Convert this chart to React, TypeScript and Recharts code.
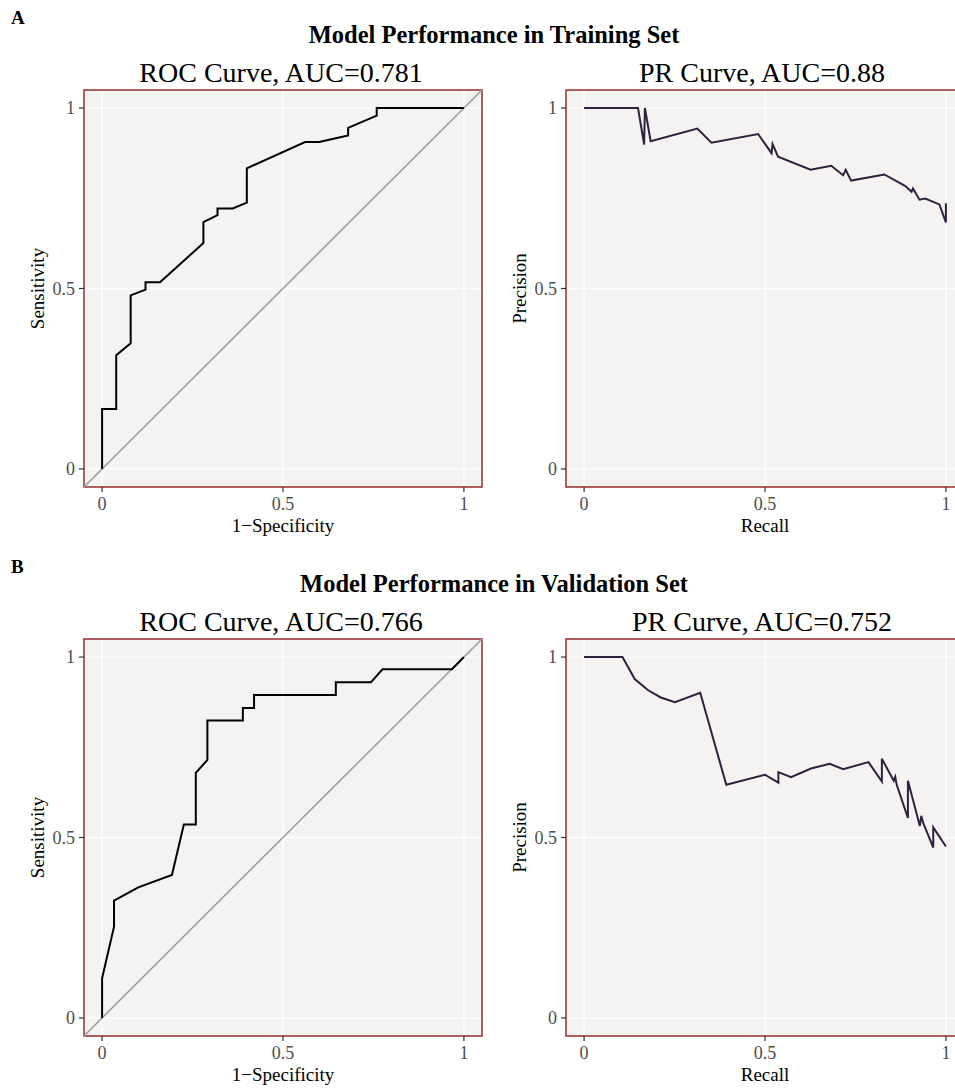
import React from 'react';
import {
  LineChart,
  Line,
  XAxis,
  YAxis,
  CartesianGrid,
  ReferenceLine,
  ReferenceArea,
  Label
} from 'recharts';

// Training set, ROC
const trainRocFpr = [0, 0, 0.039, 0.039, 0.079, 0.079, 0.12, 0.12, 0.16, 0.28, 0.28, 0.319, 0.319, 0.361, 0.4, 0.4, 0.561, 0.6, 0.68, 0.68, 0.759, 0.759, 1];
const trainRocTpr = [0, 0.166, 0.166, 0.315, 0.348, 0.481, 0.497, 0.517, 0.517, 0.626, 0.684, 0.703, 0.722, 0.722, 0.738, 0.833, 0.906, 0.906, 0.924, 0.945, 0.979, 1, 1];

// Training set, PR
const trainPrRecall = [0, 0.149, 0.166, 0.168, 0.184, 0.313, 0.352, 0.481, 0.518, 0.521, 0.536, 0.626, 0.683, 0.716, 0.723, 0.738, 0.83, 0.888, 0.905, 0.909, 0.927, 0.943, 0.982, 1, 1];
const trainPrPrecision = [1, 1, 0.899, 1, 0.908, 0.943, 0.904, 0.928, 0.875, 0.9, 0.865, 0.829, 0.84, 0.814, 0.829, 0.799, 0.816, 0.784, 0.768, 0.777, 0.746, 0.749, 0.733, 0.683, 0.736];

// Validation set, ROC
const valRocFpr = [0, 0, 0.033, 0.033, 0.1, 0.193, 0.226, 0.259, 0.259, 0.291, 0.291, 0.389, 0.389, 0.42, 0.42, 0.646, 0.646, 0.743, 0.775, 0.967, 1];
const valRocTpr = [0, 0.11, 0.253, 0.325, 0.362, 0.396, 0.536, 0.536, 0.679, 0.715, 0.824, 0.824, 0.859, 0.859, 0.895, 0.895, 0.93, 0.93, 0.966, 0.966, 1];

// Validation set, PR
const valPrRecall = [0, 0.106, 0.14, 0.177, 0.212, 0.251, 0.321, 0.393, 0.5, 0.537, 0.537, 0.572, 0.627, 0.679, 0.716, 0.786, 0.823, 0.823, 0.856, 0.86, 0.864, 0.895, 0.895, 0.928, 0.932, 0.937, 0.965, 0.965, 1];
const valPrPrecision = [1, 1, 0.939, 0.908, 0.888, 0.875, 0.901, 0.646, 0.674, 0.652, 0.681, 0.667, 0.691, 0.704, 0.689, 0.709, 0.655, 0.718, 0.657, 0.668, 0.646, 0.554, 0.657, 0.532, 0.56, 0.541, 0.472, 0.528, 0.475];

const axisTicks = [0, 0.5, 1];

const FONT = "'Liberation Serif', 'Times New Roman', serif";
const PANEL_BG = '#F5F3F1';
const BORDER = '#962B2B';

const zip = (xs: number[], ys: number[]) => xs.map((x, i) => ({ x, y: ys[i] }));

interface PanelProps {
  left: number;
  top: number;
  xs: number[];
  ys: number[];
  xLabel: string;
  yLabel: string;
  stroke: string;
  diagonal?: boolean;
}

const Panel = ({ left, top, xs, ys, xLabel, yLabel, stroke, diagonal }: PanelProps) => {
  const rows = zip(xs, ys);
  const tickStyle = { fill: '#4D4D4D', fontSize: 18, fontFamily: FONT };
  return (
    <div style={{ position: 'absolute', left, top }}>
      <LineChart width={500} height={480} data={rows} margin={{ top: 10, right: 18, left: 24, bottom: 23 }}>
        <CartesianGrid fill={PANEL_BG} stroke="#FFFFFF" strokeWidth={1.3} />
        <XAxis
          type="number"
          dataKey="x"
          domain={[-0.05, 1.05]}
          allowDataOverflow
          ticks={axisTicks}
          tickFormatter={(v) => String(v)}
          axisLine={false}
          tickSize={5}
          tickMargin={5}
          tickLine={{ stroke: '#333333', strokeWidth: 1.2 }}
          tick={tickStyle}
          height={50}
        >
          <Label value={xLabel} position="insideBottom" offset={5} style={{ fontSize: 19, fontFamily: FONT, fill: '#000' }} />
        </XAxis>
        <YAxis
          type="number"
          domain={[-0.05, 1.05]}
          allowDataOverflow
          ticks={axisTicks}
          tickFormatter={(v) => String(v)}
          axisLine={false}
          tickSize={5}
          tickMargin={4}
          tickLine={{ stroke: '#333333', strokeWidth: 1.2 }}
          tick={tickStyle}
          width={60}
        >
          <Label
            value={yLabel}
            angle={-90}
            position="insideLeft"
            offset={13}
            style={{ fontSize: 19, fontFamily: FONT, fill: '#000', textAnchor: 'middle' }}
          />
        </YAxis>
        {diagonal && (
          <ReferenceLine
            segment={[{ x: -0.05, y: -0.05 }, { x: 1.05, y: 1.05 }]}
            stroke="#9E9E9E"
            strokeWidth={1.6}
          />
        )}
        <Line type="linear" dataKey="y" stroke={stroke} strokeWidth={2} dot={false} isAnimationActive={false} />
        <ReferenceArea x1={-0.05} x2={1.05} y1={-0.05} y2={1.05} fill="none" fillOpacity={0} stroke={BORDER} strokeWidth={1.5} strokeOpacity={1} />
      </LineChart>
    </div>
  );
};

const Heading = ({ text, top, center, size, bold }: { text: string; top: number; center: number; size: number; bold?: boolean }) => (
  <div
    style={{
      position: 'absolute',
      top,
      left: center - 300,
      width: 600,
      textAlign: 'center',
      fontFamily: FONT,
      fontSize: size,
      lineHeight: 1,
      fontWeight: bold ? 'bold' : 'normal',
      color: '#000',
      whiteSpace: 'nowrap'
    }}
  >
    {text}
  </div>
);

const Section = ({ offset, letter, title, roc, pr }: any) => (
  <>
    <div style={{ position: 'absolute', left: 11, top: offset + 8, fontFamily: FONT, fontWeight: 'bold', fontSize: 19, lineHeight: 1 }}>
      {letter}
    </div>
    <Heading text={title} top={offset + 23} center={494} size={24.5} bold />
    <Heading text={roc.title} top={offset + 59} center={281} size={28} />
    <Heading text={pr.title} top={offset + 59} center={762} size={28} />
    <Panel left={0} top={offset + 80} xs={roc.xs} ys={roc.ys} xLabel="1−Specificity" yLabel="Sensitivity" stroke="#000000" diagonal />
    <Panel left={482} top={offset + 80} xs={pr.xs} ys={pr.ys} xLabel="Recall" yLabel="Precision" stroke="#2E2140" />
  </>
);

export default function App() {
  return (
    <div style={{ position: 'absolute', left: 0, top: 0, width: 955, height: 1089, overflow: 'hidden', background: '#FFFFFF' }}>
      <Section
        offset={0}
        letter="A"
        title="Model Performance in Training Set"
        roc={{ title: 'ROC Curve, AUC=0.781', xs: trainRocFpr, ys: trainRocTpr }}
        pr={{ title: 'PR Curve, AUC=0.88', xs: trainPrRecall, ys: trainPrPrecision }}
      />
      <Section
        offset={549}
        letter="B"
        title="Model Performance in Validation Set"
        roc={{ title: 'ROC Curve, AUC=0.766', xs: valRocFpr, ys: valRocTpr }}
        pr={{ title: 'PR Curve, AUC=0.752', xs: valPrRecall, ys: valPrPrecision }}
      />
    </div>
  );
}
